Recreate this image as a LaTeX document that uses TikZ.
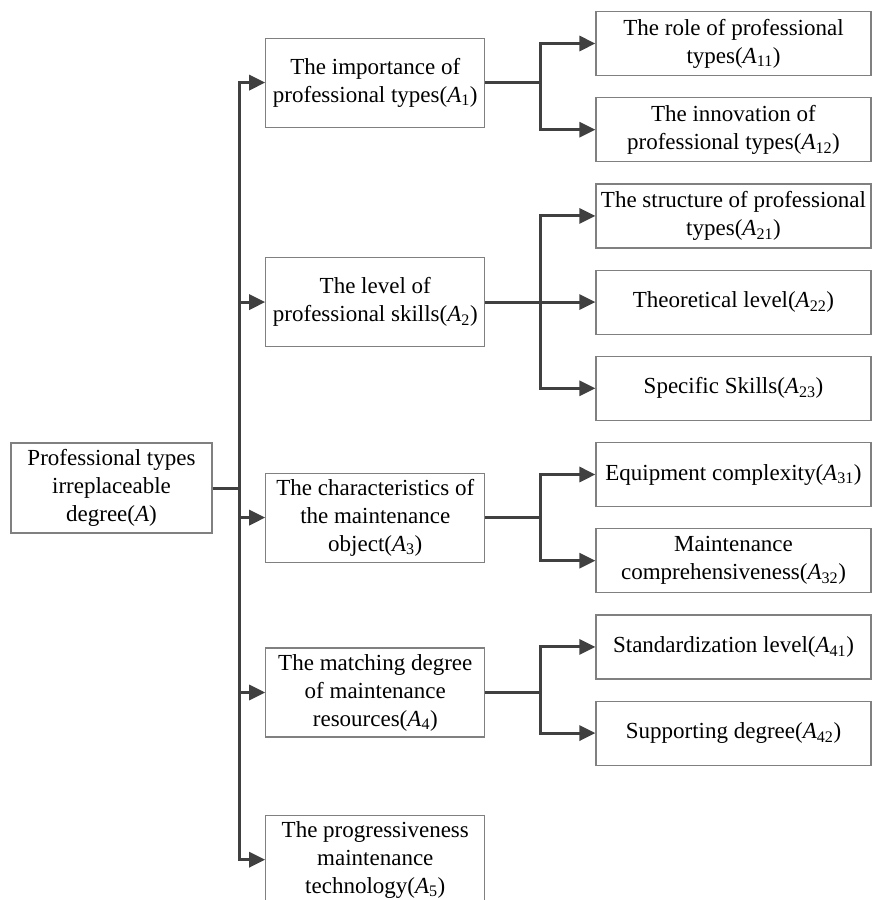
\documentclass[tikz,border=0pt]{standalone}
\usepackage{fontspec}
\setmainfont{Liberation Serif}
\usepackage{xcolor}
\usepackage{tikz}
\usetikzlibrary{arrows.meta,positioning,calc}

\definecolor{linegray}{HTML}{404040}
\definecolor{boxgray}{HTML}{808080}
\newcommand{\idx}[1]{\textit{A}\textsubscript{#1}}

\begin{document}
\begin{tikzpicture}[
    x=1pt,y=-1pt,
    box/.style={draw=boxgray,line width=1.2pt,align=center,inner sep=0pt,font=\fontsize{23}{28}\selectfont},
    root/.style={box,minimum width=201pt,minimum height=90pt},
    crit/.style={box,minimum width=219pt,minimum height=89pt},
    leaf/.style={box,minimum width=275pt,minimum height=64pt},
    link/.style={draw=linegray,line width=3pt},
    >={Triangle[length=16pt,width=15pt]},
    node distance=21pt and 110pt,
]
    \useasboundingbox (0,0) rectangle (874,900);

    % sub-criteria, one column
    \node[leaf] (a11) at (733.5,43.5) {The role of professional\\types(\idx{11})};
    \node[leaf,below=of a11] (a12) {The innovation of\\professional types(\idx{12})};
    \node[leaf,below=of a12] (a21) {The structure of professional\\types(\idx{21})};
    \node[leaf,below=of a21] (a22) {Theoretical level(\idx{22})};
    \node[leaf,below=of a22] (a23) {Specific Skills(\idx{23})};
    \node[leaf,below=of a23] (a31) {Equipment complexity(\idx{31})};
    \node[leaf,below=of a31] (a32) {Maintenance\\comprehensiveness(\idx{32})};
    \node[leaf,below=of a32] (a41) {Standardization level(\idx{41})};
    \node[leaf,below=of a41] (a42) {Supporting degree(\idx{42})};

    % criteria
    \node[crit,left=110pt of $(a11.west)!0.5!(a12.west)$,yshift=4pt] (a1) {The importance of\\professional types(\idx{1})};
    \node[crit,left=of a22] (a2) {The level of\\professional skills(\idx{2})};
    \node[crit,left=110pt of $(a31.west)!0.5!(a32.west)$] (a3) {The characteristics of\\the maintenance\\object(\idx{3})};
    \node[crit,left=110pt of $(a41.west)!0.5!(a42.west)$,yshift=-2.5pt] (a4) {The matching degree\\of maintenance\\resources(\idx{4})};
    \node[crit,below=77pt of a4] (a5) {The progressiveness\\maintenance\\technology(\idx{5})};

    \node[root] (goal) at (111.5,488) {Professional types\\irreplaceable\\degree(\textit{A})};

    % trunk
    \coordinate (trunk) at ($(goal.east)+(27pt,0)$);
    \draw[link,->] (goal.east) -- (trunk) |- (a1.west);
    \draw[link,->] (trunk) |- (a5.west);
    \foreach \n in {a2,a3,a4}
        \draw[link,->] (trunk |- \n.west) -- (\n.west);

    % branches
    \draw[link,->] (a1.east) -- ++(55pt,0) coordinate (b1) |- (a11.west);
    \draw[link,->] (b1) |- (a12.west);
    \draw[link,->] (a2.east) -- ++(55pt,0) coordinate (b2) |- (a21.west);
    \draw[link,->] (b2) |- (a23.west);
    \draw[link,->] (b2) -- (a22.west);
    \draw[link,->] (a3.east) -- ++(55pt,0) coordinate (b3) |- (a31.west);
    \draw[link,->] (b3) |- (a32.west);
    \draw[link,->] (a4.east) -- ++(55pt,0) coordinate (b4) |- (a41.west);
    \draw[link,->] (b4) |- (a42.west);
\end{tikzpicture}
\end{document}
